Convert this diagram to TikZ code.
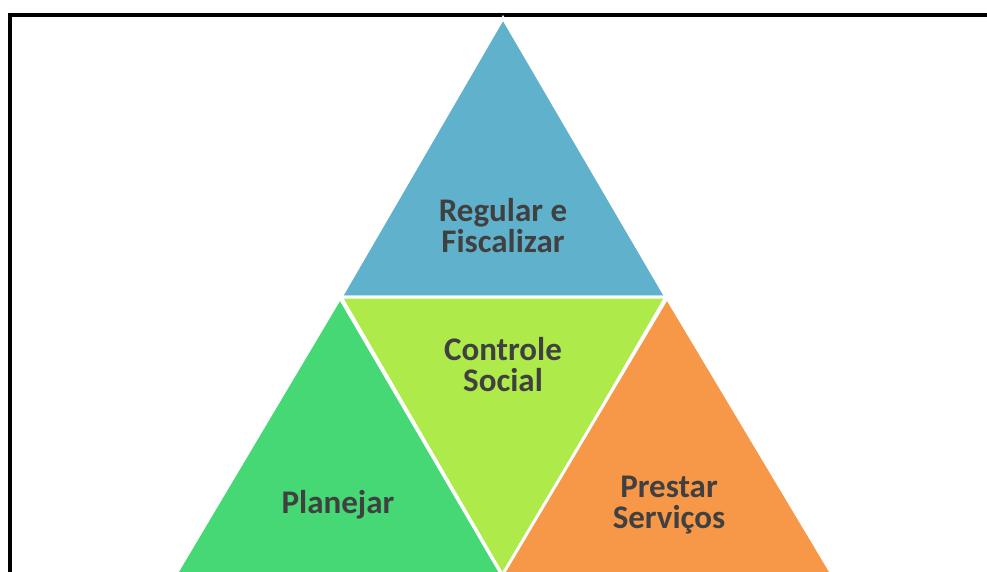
\documentclass[tikz,border=0pt]{standalone}
\usepackage{fontspec}
\setmainfont{Carlito}
\usepackage{tikz}
\definecolor{regblue}{HTML}{60B2CC}
\definecolor{ctrllime}{HTML}{ADEA4A}
\definecolor{planlgreen}{HTML}{46D874}
\definecolor{servorange}{HTML}{F79748}
\definecolor{txtgray}{HTML}{404040}
\tikzstyle{tri} = [draw=white, line width=3pt, line join=miter]
\tikzstyle{tritext} = [text=txtgray, align=center,
                       font=\bfseries\fontsize{33}{31}\selectfont]

\begin{document}
\begin{tikzpicture}[x=1pt,y=-1pt]
\useasboundingbox (0,0) rectangle (987,571);
\clip (0,0) rectangle (987,571);

%Frame
\draw[line width=4.5pt] (10,575) -- (10,15) -- (990,15);

%Triangles
\path[tri, fill=regblue] (503,18) -- (341,297) -- (666,297) -- cycle;
\path[tri, fill=ctrllime] (341,297) -- (666,297) -- (503.5,577) -- cycle;
\path[tri, fill=planlgreen] (340,298) -- (164,594) -- (513,594) -- cycle;
\path[tri, fill=servorange] (667,298) -- (491,594) -- (844,594) -- cycle;

%Labels
\node[tritext] at (503,226) (regular){Regular e\\Fiscalizar};
\node[tritext] at (503,365) (controle){Controle\\Social};
\node[tritext] at (338,505) (planejar){Planejar};
\node[tritext] at (669,505) (prestar){Prestar\\Serviços};
\end{tikzpicture}
\end{document}
